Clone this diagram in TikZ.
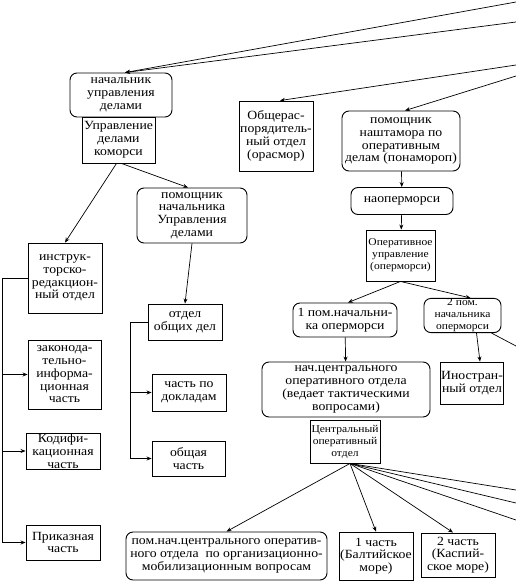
\documentclass[tikz,border=0pt]{standalone}
\usepackage{fontspec}
\setmainfont{Liberation Serif}[FakeStretch=1.1]
\usetikzlibrary{arrows.meta, positioning}

\begin{document}
\begin{tikzpicture}[
				x=1pt, y=-1pt,
				every node/.style={font=\fontsize{12.5}{12.8}\selectfont, inner sep=0.5pt},
				rbox/.style={rectangle, rounded corners=7pt, draw, line width=0.9pt, align=center},
				sbox/.style={rectangle, draw, line width=0.9pt, align=center},
				small/.style={font=\fontsize{10.5}{12}\selectfont},
				arrow/.style={line width=0.7pt, -{Stealth[length=5pt, width=4pt]}},
				line/.style={line width=0.7pt}
				]
				\useasboundingbox (0,0) rectangle (516,581);
				% Nodes
				\node (nachupr) [rbox, minimum width=102pt, minimum height=44pt] at (121,95) {начальник\\управления\\делами};
				\node (uprdel) [sbox, minimum width=73pt, minimum height=46pt] at (118.5,140) {Управление\\делами\\коморси};
				\node (orasmor) [sbox, minimum width=74pt, minimum height=70pt] at (276,136) {Общерас-\\порядитель-\\ный отдел\\(орасмор)};
				\node (ponamorop) [rbox, minimum width=118pt, minimum height=60pt] at (401,141) {помощник\\наштамора по\\оперативным\\делам (понамороп)};
				\node (naopermorsi) [rbox, minimum width=102pt, minimum height=27pt] at (402,201) {наоперморси};
				\node (opermorsi) [sbox, small, minimum width=69pt, minimum height=51pt] at (400.5,255.5) {Оперативное\\управление\\(оперморси)};
				\node (pom1) [rbox, minimum width=104pt, minimum height=34pt] at (345,320) {1 пом.начальни-\\ка оперморси};
				\node (pom2) [rbox, small, minimum width=77pt, minimum height=33pt] at (462.5,315.5) {2 пом.\\начальника\\оперморси};
				\node (inostr) [sbox, minimum width=60pt, minimum height=42pt] at (472,383) {Иностран-\\ный отдел};
				\node (nachcentr) [rbox, minimum width=168pt, minimum height=55pt] at (346,389.5) {нач.центрального\\оперативного отдела\\(ведает тактическими\\вопросами)};
				\node (centr) [sbox, small, minimum width=70pt, minimum height=43pt] at (345,441.5) {Центральный\\оперативный\\отдел};
				\node (pomcentr) [rbox, minimum width=201pt, minimum height=48pt] at (226.5,556) {пом.нач.центрального оператив-\\ного отдела~ по организационно-\\мобилизационным вопросам};
				\node (chast1) [sbox, minimum width=74pt, minimum height=48pt] at (376,556) {1 часть\\(Балтийское\\море)};
				\node (chast2) [sbox, minimum width=74pt, minimum height=44pt] at (458,555) {2 часть\\(Каспий-\\ское море)};
				\node (pomnach) [rbox, minimum width=110pt, minimum height=55pt] at (192,215.5) {помощник\\начальника\\Управления\\делами};
				\node (instr) [sbox, minimum width=74pt, minimum height=70pt] at (65,278) {инструк-\\торско-\\редакцион-\\ный отдел};
				\node (zakon) [sbox, minimum width=73pt, minimum height=69pt] at (64.5,374.5) {законода-\\тельно-\\информа-\\ционная\\часть};
				\node (kodif) [sbox, minimum width=74pt, minimum height=36pt] at (63,451) {Кодифи-\\кационная\\часть};
				\node (prikaz) [sbox, minimum width=74pt, minimum height=35pt] at (63,542.5) {Приказная\\часть};
				\node (otdobsh) [sbox, minimum width=74pt, minimum height=36pt] at (185,322) {отдел\\общих дел};
				\node (dokl) [sbox, minimum width=74pt, minimum height=37pt] at (189,392.5) {часть по\\докладам};
				\node (obsh) [sbox, minimum width=73pt, minimum height=35pt] at (188.5,458.5) {общая\\часть};

				% Free ends
				\coordinate (top1) at (516,2);
				\coordinate (top2) at (516,22);
				\coordinate (top3) at (516,65);
				\coordinate (top4) at (516,76);
				\coordinate (side1) at (516,346);
				\coordinate (lbus) at (2,278);
				\coordinate (mbus) at (130,322);

				% Arrows
				\draw [arrow] (top1) -- ([xshift=4pt]nachupr.north);
				\draw [arrow] (top2) -- ([xshift=4pt]nachupr.north);
				\draw [arrow] (top3) -- ([xshift=4pt]orasmor.north);
				\draw [arrow] (top4) -- ([xshift=4pt]ponamorop.north);
				\draw [arrow] (ponamorop) -- (naopermorsi);
				\draw [arrow] (naopermorsi) -- (opermorsi);
				\draw [arrow] (opermorsi.south) -- ([xshift=3pt]pom1.north);
				\draw [arrow] (opermorsi.south) -- ([xshift=8pt]pom2.north);
				\draw [line] ([xshift=-10pt]pom2.south east) -- (side1);
				\draw [arrow] ([xshift=14pt]pom2.south) -- ([xshift=8pt]inostr.north);
				\draw [arrow] (pom1) -- (nachcentr);
				\draw [arrow] ([xshift=5pt]centr.south) -- (pomcentr.north);
				\draw [arrow] ([xshift=5pt]centr.south) -- (chast1.north);
				\draw [arrow] ([xshift=5pt]centr.south) -- ([xshift=-5pt]chast2.north);
				\foreach \ry in {490,503,520}
					\draw [line] ([xshift=5pt]centr.south) -- (516,\ry);
				\draw [arrow] ([xshift=-2pt]uprdel.south) -- (instr.north);
				\draw [arrow] ([xshift=3pt]uprdel.south) -- ([xshift=-4pt]pomnach.north);
				\draw [arrow] (pomnach.south) -- (otdobsh.north);
				\draw [line] (instr.west) -- (lbus);
				\draw [arrow] (lbus) |- (zakon.west);
				\draw [arrow] (lbus) |- (kodif.west);
				\draw [arrow] (lbus) |- (prikaz.west);
				\draw [line] (otdobsh.west) -- (mbus);
				\draw [arrow] (mbus) |- (dokl.west);
				\draw [arrow] (mbus) |- (obsh.west);
\end{tikzpicture}
\end{document}
